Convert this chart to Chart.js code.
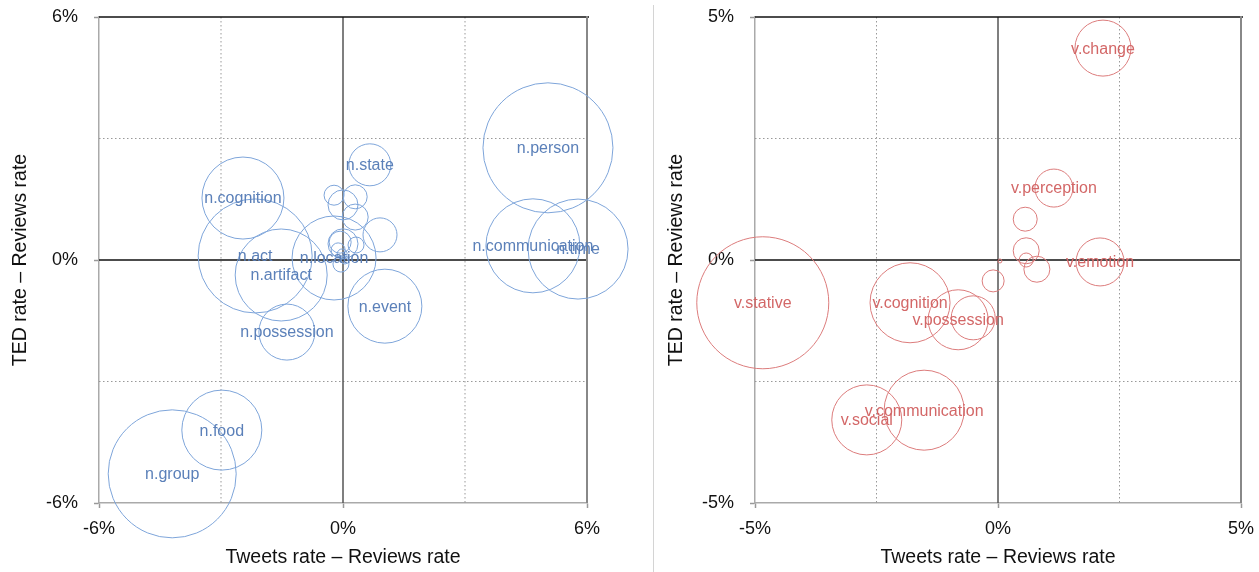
<!DOCTYPE html>
<html>
<head>
<meta charset="utf-8">
<script src="https://cdn.jsdelivr.net/npm/chart.js@4"></script>
<style>
  body { margin: 0; background: #fff; width: 1259px; height: 572px; position: relative; overflow: hidden; }
  #nouns { position: absolute; left: 0; top: 0; }
  #verbs { position: absolute; left: 656px; top: 0; }
  #sep { position: absolute; left: 653px; top: 5px; width: 1px; height: 567px; background: #d4d4d4; }
</style>
</head>
<body>
<canvas id="nouns" width="640" height="572" style="width:640px;height:572px"></canvas>
<div id="sep"></div>
<canvas id="verbs" width="603" height="572" style="width:603px;height:572px"></canvas>
<script>
// noun supersenses (left panel), values in %
const nounLabels = ['n.person', 'n.communication', 'n.time', 'n.state', 'n.cognition', 'n.act', 'n.artifact',
    'n.location', 'n.possession', 'n.event', 'n.food', 'n.group',
    '', '', '', '', '', '', '', '', '', '', '', ''];
const nounX = [5.04, 4.67, 5.78, 0.66, -2.46, -2.16, -1.52, -0.22, -1.38, 1.03, -2.98, -4.20,
    -0.22, 0.30, 0.00, 0.30, 0.91, 0.00, -0.07, 0.32, -0.12, -0.02, -0.05, 0.05];
const nounY = [2.77, 0.35, 0.27, 2.35, 1.53, 0.10, -0.37, 0.05, -1.78, -1.14, -4.20, -5.28,
    1.60, 1.56, 1.36, 1.06, 0.62, 0.40, 0.44, 0.37, 0.25, 0.15, -0.10, 0.00];
const nounR = [65, 47, 50, 21, 41, 57, 46, 42, 28, 37, 40, 64,
    10, 12, 15, 13, 17, 15, 11, 8, 7, 5, 8, 4];

// verb supersenses (right panel), values in %
const verbLabels = ['v.change', 'v.perception', 'v.emotion', 'v.stative', 'v.cognition', 'v.possession',
    'v.communication', 'v.social', '', '', '', '', '', '', ''];
const verbX = [2.16, 1.15, 2.10, -4.84, -1.81, -0.82, -1.52, -2.70, 0.56, 0.58, 0.58, 0.80, 0.04, -0.10, -0.51];
const verbY = [4.36, 1.48, -0.04, -0.88, -0.88, -1.23, -3.09, -3.29, 0.84, 0.19, 0.00, -0.19, -0.02, -0.43, -1.19];
const verbR = [28, 19, 24, 66, 40, 30, 40, 35, 12, 13, 7, 13, 2, 11, 22];

const font = 'Liberation Sans';

const framePlugin = {
    id: 'frame',
    beforeDatasetsDraw(chart, args, opts) {
        const { ctx, chartArea: a, scales: { x, y } } = chart;
        const line = (x1, y1, x2, y2) => { ctx.beginPath(); ctx.moveTo(x1, y1); ctx.lineTo(x2, y2); ctx.stroke(); };
        ctx.save();
        ctx.strokeStyle = '#999';
        ctx.lineWidth = 1;
        ctx.setLineDash([1.5, 2.5]);
        opts.dotted.forEach(v => {
            const px = x.getPixelForValue(v), py = y.getPixelForValue(v);
            line(px, a.top, px, a.bottom);
            line(a.left, py, a.right, py);
        });
        ctx.setLineDash([]);
        ctx.lineWidth = 1.5;
        ctx.strokeStyle = '#555';
        line(x.getPixelForValue(0), a.top, x.getPixelForValue(0), a.bottom);
        ctx.strokeStyle = '#111';
        line(a.left, y.getPixelForValue(0), a.right, y.getPixelForValue(0));
        line(a.left, a.top, a.right + 2, a.top);
        ctx.lineWidth = 2;
        ctx.strokeStyle = '#888';
        line(a.right, a.top - 1, a.right, a.bottom);
        ctx.restore();
    }
};

const labelPlugin = {
    id: 'bubbleLabels',
    afterDatasetsDraw(chart, args, opts) {
        const { ctx } = chart;
        const meta = chart.getDatasetMeta(0);
        ctx.save();
        ctx.font = '16px "' + font + '"';
        ctx.fillStyle = opts.color;
        ctx.textAlign = 'center';
        ctx.textBaseline = 'middle';
        meta.data.forEach((pt, i) => {
            const t = chart.data.datasets[0].data[i].label;
            if (t) ctx.fillText(t, pt.x, pt.y + 1);
        });
        ctx.restore();
    }
};

function axis(lim, step, title, pos) {
    return {
        type: 'linear',
        position: pos,
        min: -lim, max: lim,
        ticks: {
            stepSize: step,
            padding: pos === 'left' ? 16 : 10,
            color: '#111',
            font: { family: font, size: 18 },
            callback: v => v + '%'
        },
        grid: { drawOnChartArea: false, drawTicks: true, tickLength: 5, tickColor: '#999', tickWidth: 1.5 },
        border: { display: true, color: '#aaa', width: 1.5 },
        title: {
            display: true, text: title, color: '#111',
            font: { family: font, size: 19.5 },
            padding: pos === 'left' ? { top: 9, bottom: 0 } : { top: 0, bottom: 3 }
        },
        afterFit(s) {
            if (pos === 'left') s.width = 99; else s.height = 69;
            s.paddingTop = 0; s.paddingBottom = 0;
            s.paddingLeft = 0; s.paddingRight = 0;
        }
    };
}

function makeChart(id, labels, xs, ys, rs, lim, dotted, stroke, text, padRight) {
    const pts = labels.map((l, i) => ({ x: xs[i], y: ys[i], r: rs[i], label: l }));
    return new Chart(document.getElementById(id), {
        type: 'bubble',
        data: {
            datasets: [{
                data: pts,
                backgroundColor: 'rgba(0,0,0,0)',
                borderColor: stroke,
                borderWidth: 1,
                hoverBorderWidth: 1,
                clip: false
            }]
        },
        options: {
            responsive: false,
            animation: false,
            events: [],
            layout: { autoPadding: false, padding: { top: 17, right: padRight, bottom: 0, left: 0 } },
            plugins: {
                legend: { display: false },
                tooltip: { enabled: false },
                frame: { dotted: dotted },
                bubbleLabels: { color: text }
            },
            scales: {
                x: axis(lim, lim, 'Tweets rate \u2013 Reviews rate', 'bottom'),
                y: axis(lim, lim, 'TED rate \u2013 Reviews rate', 'left')
            }
        },
        plugins: [framePlugin, labelPlugin]
    });
}

makeChart('nouns', nounLabels, nounX, nounY, nounR, 6, [-3, 3], '#7ea5da', '#5b80b9', 53);
makeChart('verbs', verbLabels, verbX, verbY, verbR, 5, [-2.5, 2.5], '#dc7c7c', '#d36767', 18);
</script>
</body>
</html>
